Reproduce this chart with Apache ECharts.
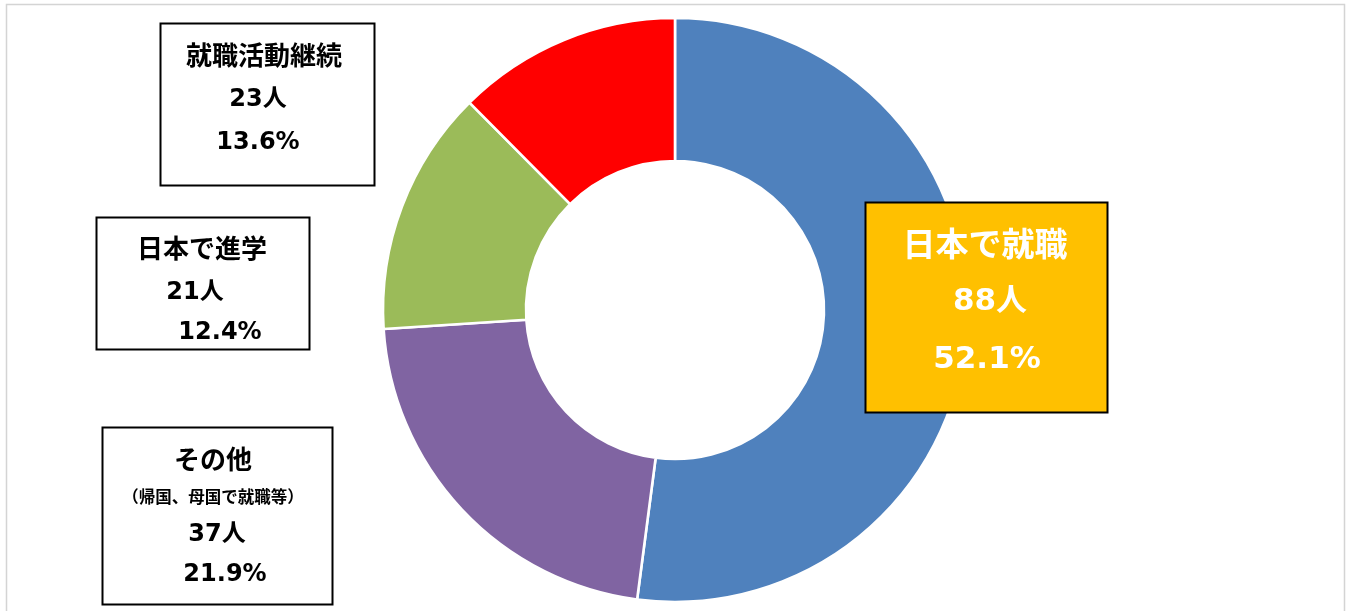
<!DOCTYPE html>
<html><head><meta charset="utf-8">
<script src="https://cdn.jsdelivr.net/npm/echarts@6/dist/echarts.min.js"></script>
<style>html,body{margin:0;padding:0;background:#fff}#c{width:1351px;height:611px}</style>
</head><body><div id="c"></div>
<script>
// slice order, clockwise from 12 o'clock
const categories = ['日本で就職', 'その他', '就職活動継続', '日本で進学'];
const values = [88, 37, 23, 21];
const percents = ['52.1%', '21.9%', '13.6%', '12.4%'];
const colors = ['#4F81BD', '#8064A2', '#9BBB59', '#FF0000'];
const subNote = '（帰国、母国で就職等）';

const FF = '"DejaVu Sans", "Noto Sans CJK JP", sans-serif';
const FJ = '"Noto Sans CJK JP", sans-serif';
const chart = echarts.init(document.getElementById('c'));

function txt(s, x, y, size, color, fam) {
  return { type: 'text', x: x, y: y, z: 20,
    style: { text: s, fill: color || '#000', font: 'bold ' + size + 'px ' + (fam || FF),
      textAlign: 'center', textVerticalAlign: 'middle' } };
}
function box(x, y, w, h, fill, lw) {
  return { type: 'rect', z: 10, shape: { x: x, y: y, width: w, height: h },
    style: { fill: fill, stroke: '#000', lineWidth: lw } };
}

const graphics = [
  { type: 'rect', z: 1, shape: { x: 6.5, y: 4.5, width: 1338, height: 620 },
    style: { fill: 'none', stroke: '#d4d4d4', lineWidth: 1.5 } },
  // 就職活動継続
  box(160.5, 23.5, 214, 162, '#fff', 2),
  txt(categories[2], 264, 55, 26, '#000', FJ),
  txt(values[2] + '人', 258, 100, 24),
  txt(percents[2], 258, 143, 24),
  // 日本で進学
  box(96.5, 217.5, 213, 132, '#fff', 2),
  txt(categories[3], 202, 248, 26, '#000', FJ),
  txt(values[3] + '人', 195, 293, 24),
  txt(percents[3], 220, 333, 24),
  // その他
  box(102.5, 427.5, 230, 177, '#fff', 2),
  txt(categories[1], 213, 459, 26, '#000', FJ),
  txt(subNote, 213, 497, 16.5, '#000', FJ),
  txt(values[1] + '人', 217, 535, 24),
  txt(percents[1], 225, 575, 24),
  // 日本で就職
  box(865.5, 202.5, 242, 210, '#FFC000', 2),
  txt(categories[0], 985, 243, 33, '#fff', FJ),
  txt(values[0] + '人', 990, 302, 31, '#fff'),
  txt(percents[0], 987, 360, 31, '#fff')
];

chart.setOption({
  animation: false,
  backgroundColor: '#fff',
  series: [{
    type: 'pie',
    center: [675, 310],
    radius: [149, 292],
    startAngle: 90,
    clockwise: true,
    label: { show: false },
    labelLine: { show: false },
    itemStyle: { borderColor: '#fff', borderWidth: 2.6 },
    data: categories.map((c, i) => ({ name: c, value: values[i], itemStyle: { color: colors[i] } }))
  }],
  graphic: graphics
});
</script></body></html>
